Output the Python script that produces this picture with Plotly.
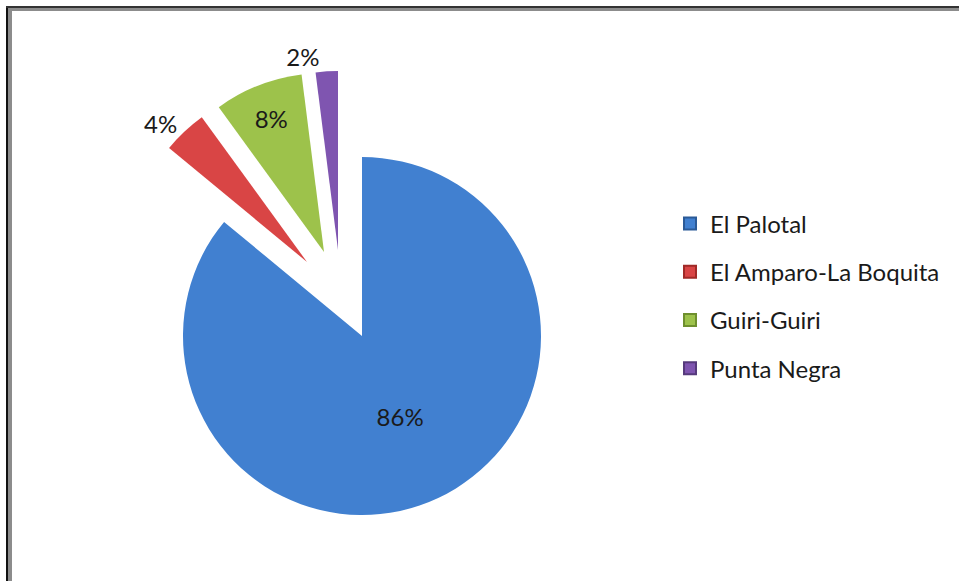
import plotly.graph_objects as go

# Sites and their share of the total
sites = ["El Palotal", "El Amparo-La Boquita", "Guiri-Guiri", "Punta Negra"]
shares = [86, 4, 8, 2]
colors = ["#4180D0", "#D94545", "#9DC24B", "#7F55B0"]
edge_colors = ["#2B5A97", "#A02A27", "#6E8F2E", "#563A7C"]
label_pos = ["inside", "outside", "inside", "outside"]
# how far each slice is pulled away from the centre (pixels)
explode_dx = [0, -55, -38, -24]
explode_dy = [0, -74, -84, -86]

W, H = 959, 581
CX, CY, R = 362, 336, 179  # pie centre and radius, pixels

fig = go.Figure()

for i, site in enumerate(sites):
    # each slice drawn as its own pie so that exploded slices keep full radius
    cx = CX + explode_dx[i]
    cy = CY + explode_dy[i]
    fig.add_trace(go.Pie(
        labels=sites,
        values=shares,
        sort=False,
        direction="clockwise",
        rotation=0,
        marker=dict(
            colors=[c if j == i else "rgba(0,0,0,0)" for j, c in enumerate(colors)],
            line=dict(width=0),
        ),
        texttemplate=["%{percent:.0%}" if j == i else "" for j in range(len(sites))],
        textposition=label_pos,
        insidetextorientation="horizontal",
        textfont=dict(family="Lato", size=24, color="#1a1a1a"),
        domain=dict(
            x=[(cx - R) / W, (cx + R) / W],
            y=[1 - (cy + R) / H, 1 - (cy - R) / H],
        ),
        showlegend=False,
        hoverinfo="label+percent",
    ))

# Legend entries
for i, site in enumerate(sites):
    fig.add_trace(go.Scatter(
        x=[None], y=[None], mode="markers", name=site,
        legendgroup=site,
        marker=dict(symbol="square", size=11, color=colors[i],
                    line=dict(color=edge_colors[i], width=1)),
    ))

# Frame along the top and left edges
shapes = [
    dict(type="rect", xref="paper", yref="paper", x0=8 / W, x1=12 / W, y0=0, y1=1 - 8 / H,
         fillcolor="#8c8c8c", line_width=0),
    dict(type="rect", xref="paper", yref="paper", x0=8 / W, x1=1, y0=1 - 11 / H, y1=1 - 8 / H,
         fillcolor="#8c8c8c", line_width=0),
    dict(type="rect", xref="paper", yref="paper", x0=6 / W, x1=8 / W, y0=0, y1=1 - 6 / H,
         fillcolor="#111111", line_width=0),
    dict(type="rect", xref="paper", yref="paper", x0=6 / W, x1=1, y0=1 - 8 / H, y1=1 - 6 / H,
         fillcolor="#333333", line_width=0),
]

fig.update_layout(
    width=W, height=H,
    margin=dict(l=0, r=0, t=0, b=0),
    paper_bgcolor="white",
    plot_bgcolor="white",
    xaxis=dict(visible=False),
    yaxis=dict(visible=False),
    shapes=shapes,
    legend=dict(
        x=670 / W, xanchor="left",
        y=1 - 296 / H, yanchor="middle",
        font=dict(family="Lato", size=24, color="#1a1a1a"),
        tracegroupgap=14,
        itemsizing="constant",
        bgcolor="rgba(0,0,0,0)",
    ),
)

fig.write_html("out.html")
